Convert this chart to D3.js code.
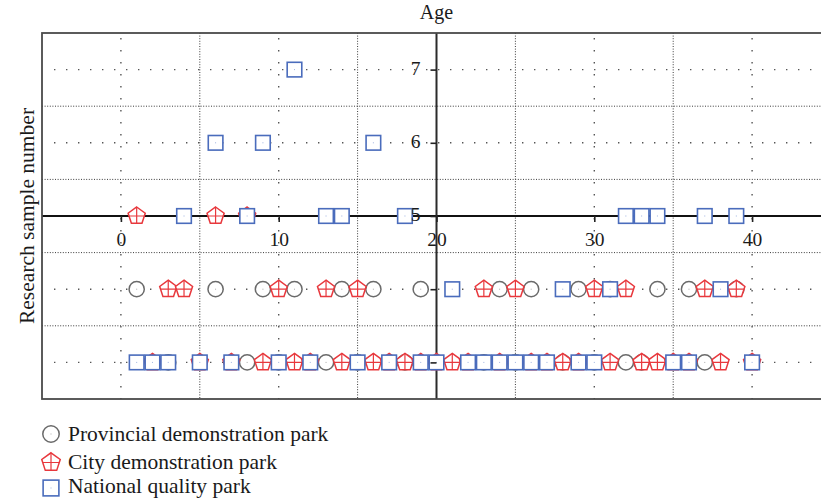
<!DOCTYPE html>
<html>
<head>
<meta charset="utf-8">
<script src="https://cdn.jsdelivr.net/npm/d3@7"></script>
<style>
  html, body { margin: 0; padding: 0; background: #fff; }
  svg { display: block; }
  text { font-family: "Liberation Serif", "Times New Roman", serif; fill: #1a1a1a; }
</style>
</head>
<body>
<svg id="chart" width="821" height="500"></svg>
<script>
// Axis ticks
const ageTicks = [0, 10, 20, 30, 40];
const sampleTicks = [3, 4, 5, 6, 7];
const sampleTickLabels = [5, 6, 7];   // only the ticks above the horizontal axis carry labels
const ageMinorGrid = [5, 15, 25, 35];
const sampleMinorGrid = [3.5, 4.5, 5.5, 6.5];

const seriesNames = ["Provincial demonstration park", "City demonstration park", "National quality park"];

// [age, research sample number]
const provincialPoints = [
  [1, 4], [6, 4], [9, 4], [11, 4], [14, 4], [16, 4], [19, 4], [24, 4], [26, 4], [29, 4], [31, 4], [34, 4], [36, 4], [39, 4],
  [3, 3], [8, 3], [10, 3], [13, 3], [15, 3], [18, 3], [23, 3], [25, 3], [28, 3], [30, 3], [32, 3], [33, 3], [37, 3]
];
const cityPoints = [
  [1, 5], [6, 5], [8, 5],
  [3, 4], [4, 4], [10, 4], [13, 4], [15, 4], [23, 4], [25, 4], [30, 4], [32, 4], [37, 4], [39, 4],
  [2, 3], [5, 3], [7, 3], [9, 3], [11, 3], [12, 3], [14, 3], [16, 3], [17, 3], [18, 3], [19, 3], [20, 3], [21, 3],
  [22, 3], [24, 3], [26, 3], [27, 3], [28, 3], [29, 3], [31, 3], [33, 3], [34, 3], [35, 3], [36, 3], [38, 3], [40, 3]
];
const nationalPoints = [
  [11, 7],
  [6, 6], [9, 6], [16, 6],
  [4, 5], [8, 5], [13, 5], [14, 5], [18, 5], [32, 5], [33, 5], [34, 5], [37, 5], [39, 5],
  [21, 4], [28, 4], [31, 4], [38, 4],
  [1, 3], [2, 3], [3, 3], [5, 3], [7, 3], [10, 3], [12, 3], [15, 3], [17, 3], [19, 3], [20, 3], [22, 3], [23, 3],
  [24, 3], [25, 3], [26, 3], [27, 3], [29, 3], [30, 3], [35, 3], [36, 3], [40, 3]
];

const colors = { provincial: "#6a6a6a", city: "#e8383d", national: "#4a6cbc" };

const svg = d3.select("#chart");
const plotLeft = 42, plotRight = 831, plotTop = 33, plotBottom = 399;

const x = d3.scaleLinear().domain([-5, 45]).range([plotLeft, plotRight]);
const y = d3.scaleLinear().domain([2.5, 7.5]).range([plotBottom, plotTop]);

const xAxisAt = 5;   // horizontal axis crosses at sample number 5
const yAxisAt = 20;  // vertical axis crosses at age 20

const plot = svg.append("g");

// Fine dotted grid at the half steps
plot.append("g").selectAll("line").data(ageMinorGrid).join("line")
  .attr("x1", d => x(d)).attr("x2", d => x(d))
  .attr("y1", plotTop).attr("y2", plotBottom)
  .attr("stroke", "#3a3a3a").attr("stroke-width", 1).attr("stroke-dasharray", "1,1.6");
plot.append("g").selectAll("line").data(sampleMinorGrid).join("line")
  .attr("x1", plotLeft).attr("x2", plotRight)
  .attr("y1", d => y(d)).attr("y2", d => y(d))
  .attr("stroke", "#3a3a3a").attr("stroke-width", 1).attr("stroke-dasharray", "1,1.6");

// Sparse dotted grid at the major ticks
plot.append("g").selectAll("line").data(ageTicks.filter(d => d !== yAxisAt)).join("line")
  .attr("x1", d => x(d)).attr("x2", d => x(d))
  .attr("y1", plotTop + 5).attr("y2", plotBottom)
  .attr("stroke", "#555").attr("stroke-width", 1.4).attr("stroke-dasharray", "1.4,10.6");
plot.append("g").selectAll("line").data(sampleTicks.filter(d => d !== xAxisAt)).join("line")
  .attr("x1", plotLeft + 12).attr("x2", plotRight)
  .attr("y1", d => y(d)).attr("y2", d => y(d))
  .attr("stroke", "#555").attr("stroke-width", 1.4).attr("stroke-dasharray", "1.4,10.6");

// Axis lines through the plot
plot.append("line")
  .attr("x1", plotLeft).attr("x2", plotRight)
  .attr("y1", y(xAxisAt)).attr("y2", y(xAxisAt))
  .attr("stroke", "#111").attr("stroke-width", 1.8);
plot.append("line")
  .attr("x1", x(yAxisAt)).attr("x2", x(yAxisAt))
  .attr("y1", plotTop).attr("y2", plotBottom)
  .attr("stroke", "#2b2b2b").attr("stroke-width", 2);

// Marker shapes
const R = 9;
const pentPts = d3.range(5).map(i => {
  const a = (-90 + i * 72) * Math.PI / 180;
  return [R * Math.cos(a), R * Math.sin(a)];
});
const pentPath = "M" + pentPts.map(p => p.join(",")).join("L") + "Z";
const crossPath = `M0,${-R}V${R * Math.cos(Math.PI / 5)}M${-0.85 * R},0H${0.85 * R}`;

function drawCircle(g, s) {
  g.append("circle").attr("r", 7.6 * s).attr("fill", "#fff")
    .attr("stroke", colors.provincial).attr("stroke-width", 1.5);
  g.append("rect").attr("x", -0.5).attr("y", -0.5).attr("width", 1).attr("height", 1)
    .attr("fill", "#aaa");
}
function drawPentagon(g, s) {
  g.append("path").attr("d", pentPath).attr("transform", `scale(${s})`)
    .attr("fill", "#fff").attr("stroke", colors.city).attr("stroke-width", 1.5 / s);
  g.append("path").attr("d", crossPath).attr("transform", `scale(${s})`)
    .attr("fill", "none").attr("stroke", colors.city).attr("stroke-width", 1.2 / s);
}
function drawSquare(g, s) {
  const h = 7.3 * s;
  g.append("rect").attr("x", -h).attr("y", -h).attr("width", 2 * h).attr("height", 2 * h)
    .attr("fill", "#fff").attr("stroke", colors.national).attr("stroke-width", 1.6);
  g.append("rect").attr("x", -0.5).attr("y", -0.5).attr("width", 1).attr("height", 1)
    .attr("fill", "#9fb3e0");
}

const marks = svg.append("g");
marks.append("g").selectAll("g").data(provincialPoints).join("g")
  .attr("transform", d => `translate(${x(d[0])},${y(d[1])})`)
  .each(function () { drawCircle(d3.select(this), 1); });
marks.append("g").selectAll("g").data(cityPoints).join("g")
  .attr("transform", d => `translate(${x(d[0])},${y(d[1])})`)
  .each(function () { drawPentagon(d3.select(this), 1); });
marks.append("g").selectAll("g").data(nationalPoints).join("g")
  .attr("transform", d => `translate(${x(d[0])},${y(d[1])})`)
  .each(function () { drawSquare(d3.select(this), 1); });

// Axes with tick labels
const xAxis = svg.append("g")
  .attr("transform", `translate(0,${y(xAxisAt)})`)
  .call(d3.axisBottom(x).tickValues(ageTicks).tickSize(6).tickPadding(10.5).tickFormat(d3.format("d")));
const yAxis = svg.append("g")
  .attr("transform", `translate(${x(yAxisAt)},0)`)
  .call(d3.axisLeft(y).tickValues(sampleTicks).tickSize(6).tickPadding(10)
    .tickFormat(d => sampleTickLabels.includes(d) ? d3.format("d")(d) : ""));
[xAxis, yAxis].forEach(a => {
  a.select(".domain").remove();
  a.selectAll(".tick line").attr("stroke", "#222").attr("stroke-width", 1.6);
  a.selectAll(".tick text").attr("font-family", "Liberation Serif, serif")
    .attr("font-size", 19.5).attr("fill", "#1a1a1a");
});
yAxis.selectAll(".tick text").attr("dy", "0.24em");

// Plot frame
svg.append("rect")
  .attr("x", plotLeft).attr("y", plotTop).attr("width", plotRight - plotLeft).attr("height", plotBottom - plotTop)
  .attr("fill", "none").attr("stroke", "#4a4a4a").attr("stroke-width", 1.8);

// Titles
svg.append("text").attr("x", 436.5).attr("y", 19).attr("text-anchor", "middle")
  .attr("font-size", 20).text("Age");
svg.append("text").attr("transform", `translate(34,${(plotTop + plotBottom) / 2}) rotate(-90)`)
  .attr("text-anchor", "middle").attr("font-size", 21.5).text("Research sample number");

// Legend
const legend = svg.append("g");
const legendRows = [
  { name: seriesNames[0], draw: drawCircle, cy: 434, base: 441 },
  { name: seriesNames[1], draw: drawPentagon, cy: 462.5, base: 469.3 },
  { name: seriesNames[2], draw: drawSquare, cy: 488, base: 493.3 }
];
legendRows.forEach(r => {
  const g = legend.append("g").attr("transform", `translate(51,${r.cy})`);
  r.draw(g, 1.08);
  legend.append("text").attr("x", 68).attr("y", r.base).attr("font-size", 21.5).text(r.name);
});
</script>
</body>
</html>
